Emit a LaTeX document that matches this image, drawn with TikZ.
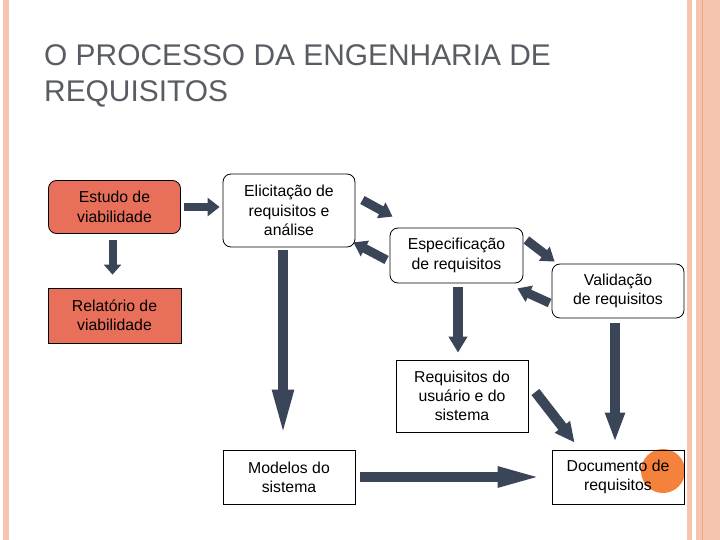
\documentclass[tikz,border=0pt]{standalone}
\usepackage{fontspec}
\setmainfont{Liberation Sans}
\usetikzlibrary{arrows.meta,calc}
\definecolor{salmonred}{HTML}{E8705A}
\definecolor{arrowdark}{HTML}{3B4558}
\definecolor{titlegrey}{HTML}{595D63}
\definecolor{peach}{HTML}{F6C5B0}
\definecolor{peachdark}{HTML}{EDA585}
\definecolor{badgeorange}{HTML}{F4823C}
\tikzset{
  box/.style={draw=black, line width=0.8pt, align=center, inner sep=0pt,
    font=\fontsize{15.8}{19.3}\selectfont, text=black},
  rbox/.style={box, rounded corners=8pt},
  redbox/.style={fill=salmonred},
  barrow/.style={draw=arrowdark, line width=#1},
  barrow/.default=9.5pt,
}
\begin{document}
\begin{tikzpicture}[x=1pt,y=-1pt]
\useasboundingbox (0,0) rectangle (720,540);
% frame strips
\fill[peach] (3,0) rectangle (9,540);
\fill[peach] (687,0) rectangle (692,540);
\fill[peach] (696,0) rectangle (720,540);
\fill[peachdark] (701.8,0) rectangle (702.8,540);
% title
\node[anchor=north west, inner sep=0pt, align=left, text=titlegrey,
  font=\fontsize{29.9}{36}\selectfont] (title) at (44,44)
  {O PROCESSO DA ENGENHARIA DE\\REQUISITOS};
% badge circle (behind)
\fill[badgeorange] (663,471) circle (22);
% boxes
\node[rbox, redbox, minimum width=132pt, minimum height=53pt] (est) at (114.5,207) {Estudo de\\viabilidade};
\node[box, redbox, minimum width=133pt, minimum height=55pt] (rel) at (114.5,315.5) {Relatório de\\viabilidade};
\node[rbox, minimum width=132pt, minimum height=73pt] (eli) at (289,210.5) {Elicitação de\\requisitos e\\análise};
\node[rbox, minimum width=133pt, minimum height=55pt] (esp) at (456.5,255.5) {Especificação\\de requisitos};
\node[rbox, minimum width=132pt, minimum height=54pt] (val) at (618,291) {Validação\\de requisitos};
\node[box, minimum width=132pt, minimum height=72pt] (req) at (462,396) {Requisitos do\\usuário e do\\sistema};
\node[box, minimum width=132pt, minimum height=54pt] (mod) at (289,477) {Modelos do\\sistema};
\node[box, minimum width=132pt, minimum height=54pt] (doc) at (618,477) {Documento de\\requisitos};
% arrows
\draw[barrow=8pt, -{Triangle[length=12pt,width=18pt]}]
  ($(est.east)+(3,0)$) -- ($(est.east -| eli.west)+(-3,0)$);
\draw[barrow=8pt, -{Triangle[length=10pt,width=17pt]}]
  ($(est.south)+(-2,6)$) -- ($(rel.north)+(-2,-13)$);
\draw[barrow=10pt, -{Triangle[length=48pt,width=19pt]}]
  ($(eli.south)+(-6,3)$) -- ($(mod.north)+(-6,-12)$);
\draw[barrow=9pt, -{Triangle[length=13pt,width=17pt]}]
  ($(eli.east)+(7,-10.5)$) -- ($(esp.north west)+(3,-11)$);
\draw[barrow=9pt, -{Triangle[length=13pt,width=17pt]}]
  ($(esp.west)+(-3,4.5)$) -- ($(eli.south east)+(-2,-5)$);
\draw[barrow=9pt, -{Triangle[length=13pt,width=17pt]}]
  ($(esp.east)+(3,-15.5)$) -- ($(val.north west)+(3,-2)$);
\draw[barrow=9pt, -{Triangle[length=13pt,width=17pt]}]
  ($(val.west)+(-2,12)$) -- ($(esp.south east)+(-6,5)$);
\draw[barrow=10pt, -{Triangle[length=16pt,width=18pt]}]
  ($(esp.south)+(1.5,4)$) -- ($(req.north)+(-4,-7)$);
\draw[barrow=10pt, -{Triangle[length=30pt,width=18pt]}]
  ($(val.south)+(-3,5)$) -- ($(doc.north)+(-3,-7)$);
\draw[barrow=10pt, -{Triangle[length=20pt,width=18pt]}]
  ($(req.east)+(7,-4)$) -- ($(doc.north west)+(23,-7)$);
\draw[barrow=10pt, -{Triangle[length=47pt,width=18pt]}]
  ($(mod.east)+(5,0)$) -- ($(doc.west)+(-7,0)$);
\end{tikzpicture}
\end{document}
